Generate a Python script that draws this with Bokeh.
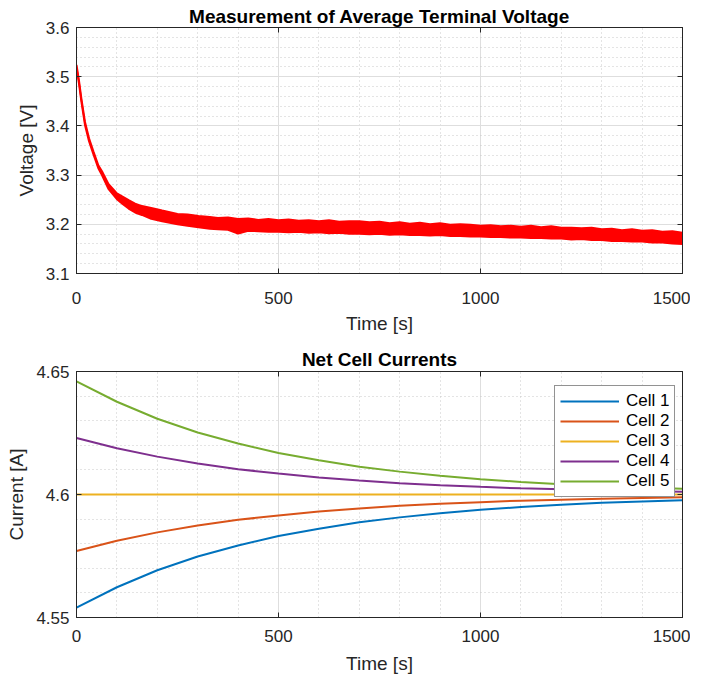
from bokeh.plotting import figure
from bokeh.layouts import column
from bokeh.models import FixedTicker, LinearAxis, Legend, LegendItem, Range1d
from bokeh.embed import file_html
from bokeh.resources import INLINE

# ---------------- data ----------------
# Top panel: measured average terminal voltage (noisy band: upper / lower envelope)
t_v = [0, 6, 12, 21, 31, 42, 54, 63, 79, 100, 115, 129, 145, 162, 185, 212, 250, 275,
       302, 330, 350, 375, 400, 425, 450, 475, 500, 525, 550, 575, 600, 625, 650, 675,
       700, 725, 750, 775, 800, 825, 850, 875, 900, 925, 950, 975, 1000, 1025, 1050,
       1075, 1100, 1125, 1150, 1175, 1200, 1225, 1250, 1275, 1300, 1325, 1350, 1375,
       1400, 1425, 1450, 1475, 1500]
v_hi = [3.524, 3.493, 3.456, 3.408, 3.375, 3.348, 3.320, 3.308, 3.282, 3.263, 3.256,
        3.249, 3.242, 3.237, 3.233, 3.228, 3.221, 3.220, 3.217, 3.215, 3.213, 3.214,
        3.211, 3.212, 3.209, 3.211, 3.208, 3.210, 3.207, 3.208, 3.206, 3.208, 3.205,
        3.206, 3.206, 3.204, 3.205, 3.202, 3.204, 3.201, 3.203, 3.200, 3.202, 3.199,
        3.200, 3.199, 3.197, 3.198, 3.196, 3.197, 3.195, 3.197, 3.194, 3.196, 3.193,
        3.193, 3.192, 3.193, 3.190, 3.191, 3.188, 3.190, 3.187, 3.188, 3.185, 3.186,
        3.183]
v_lo = [3.518, 3.487, 3.450, 3.402, 3.369, 3.342, 3.314, 3.300, 3.272, 3.251, 3.241,
        3.232, 3.224, 3.219, 3.211, 3.206, 3.200, 3.197, 3.194, 3.191, 3.190, 3.189,
        3.181, 3.187, 3.186, 3.185, 3.185, 3.184, 3.185, 3.183, 3.184, 3.182, 3.183,
        3.181, 3.181, 3.180, 3.181, 3.179, 3.180, 3.178, 3.178, 3.177, 3.178, 3.176,
        3.176, 3.175, 3.175, 3.174, 3.174, 3.173, 3.173, 3.172, 3.172, 3.171, 3.171,
        3.169, 3.170, 3.168, 3.168, 3.166, 3.166, 3.165, 3.165, 3.163, 3.163, 3.161,
        3.160]

# Bottom panel: net cell currents
t_i = [0, 100, 200, 300, 400, 500, 600, 700, 800, 900, 1000, 1100, 1200, 1300, 1400, 1500]
cell1 = [4.5540, 4.5623, 4.5692, 4.5748, 4.5793, 4.5831, 4.5861, 4.5887, 4.5907, 4.5924,
         4.5938, 4.5949, 4.5958, 4.5966, 4.5972, 4.5977]
cell2 = [4.5770, 4.5812, 4.5846, 4.5874, 4.5897, 4.5915, 4.5931, 4.5943, 4.5954, 4.5962,
         4.5969, 4.5975, 4.5979, 4.5983, 4.5986, 4.5989]
cell3 = [4.6000, 4.6000, 4.6000, 4.6000, 4.6000, 4.6000, 4.6000, 4.6000, 4.6000, 4.6000,
         4.6000, 4.6000, 4.6000, 4.6000, 4.6000, 4.6000]
cell4 = [4.6230, 4.6188, 4.6154, 4.6126, 4.6103, 4.6085, 4.6069, 4.6057, 4.6046, 4.6038,
         4.6031, 4.6025, 4.6021, 4.6017, 4.6014, 4.6011]
cell5 = [4.6460, 4.6377, 4.6308, 4.6252, 4.6207, 4.6169, 4.6139, 4.6113, 4.6093, 4.6076,
         4.6062, 4.6051, 4.6042, 4.6034, 4.6028, 4.6023]
cell_names = ["Cell 1", "Cell 2", "Cell 3", "Cell 4", "Cell 5"]
cell_colors = ["#0072BD", "#D95319", "#EDB120", "#7E2F8E", "#77AC30"]

x_ticks = [0, 500, 1000, 1500]
x_tick_labels = ["0", "500", "1000", "1500"]
v_ticks = [3.1, 3.2, 3.3, 3.4, 3.5, 3.6]
v_tick_labels = ["3.1", "3.2", "3.3", "3.4", "3.5", "3.6"]
i_ticks = [4.55, 4.6, 4.65]
i_tick_labels = ["4.55", "4.6", "4.65"]

FONT = "Liberation Sans"
AX = "#262626"

x_minor = [m for m in range(100, 1500, 100) if m % 500 != 0]
v_minor = [round(3.1 + 0.02 * k, 2) for k in range(1, 25) if k % 5 != 0]
i_minor = [round(4.55 + 0.01 * k, 2) for k in range(1, 10) if k % 5 != 0]


def make_fig(title, yr, yt, ylab, yminor, ylabel, bt, bb, tick_so, lab_so, title_so):
    p = figure(frame_width=606, frame_height=246,
               x_range=Range1d(0, 1500), y_range=Range1d(*yr),
               output_backend="svg", toolbar_location=None,
               min_border_left=76, min_border_right=8,
               min_border_top=bt, min_border_bottom=bb,
               background_fill_color="white", border_fill_color="white")
    p.title.text = title
    p.title.text_font = FONT
    p.title.text_font_size = "19px"
    p.title.text_font_style = "bold"
    p.title.text_color = "black"
    p.title.align = "center"
    p.title.standoff = title_so
    p.outline_line_color = AX
    p.outline_line_width = 1

    xt = FixedTicker(ticks=x_ticks, minor_ticks=x_minor)
    ytk = FixedTicker(ticks=yt, minor_ticks=yminor)
    p.xaxis.ticker = xt
    p.yaxis.ticker = ytk
    p.xaxis.major_label_overrides = {k: v for k, v in zip(x_ticks, x_tick_labels)}
    p.yaxis.major_label_overrides = {k: v for k, v in zip(yt, ylab)}
    p.xaxis.axis_label = "Time [s]"
    p.yaxis.axis_label = ylabel
    for ax in (p.xaxis[0], p.yaxis[0]):
        ax.axis_line_color = AX
        ax.major_tick_line_color = AX
        ax.major_tick_in = 5
        ax.major_tick_out = 0
        ax.minor_tick_in = 0
        ax.minor_tick_out = 0
        ax.major_label_text_font = FONT
        ax.major_label_text_font_size = "17px"
        ax.major_label_text_color = AX
        ax.axis_label_text_font = FONT
        ax.axis_label_text_font_size = "19px"
        ax.axis_label_text_font_style = "normal"
        ax.axis_label_text_color = AX
    p.xaxis.major_label_standoff = tick_so
    p.xaxis.axis_label_standoff = lab_so
    p.yaxis.major_label_standoff = 7
    p.yaxis.axis_label_standoff = 6

    for g in (p.xgrid[0], p.ygrid[0]):
        g.grid_line_color = "#dedede"
        g.grid_line_width = 1
        g.minor_grid_line_color = "#c8c8c8"
        g.minor_grid_line_dash = "1 3"
        g.minor_grid_line_width = 1
    p.xgrid.ticker = xt
    p.ygrid.ticker = ytk

    # box ticks on top / right (no labels)
    for place, tk in (("above", xt), ("right", ytk)):
        ax = LinearAxis(ticker=tk, major_label_text_font_size="0px",
                        major_label_text_color=None, major_tick_in=5,
                        major_tick_out=0, minor_tick_in=0, minor_tick_out=0,
                        major_label_standoff=0, axis_line_color=AX,
                        major_tick_line_color=AX)
        p.add_layout(ax, place)
    return p


p1 = make_fig("Measurement of Average Terminal Voltage", (3.1, 3.6), v_ticks,
              v_tick_labels, v_minor, "Voltage [V]", 27, 60, 18, 6, 2)
p1.varea(x=t_v, y1=v_lo, y2=v_hi, fill_color="#FF0000")
p1.line(t_v, v_hi, line_color="#FF0000", line_width=2)
p1.line(t_v, v_lo, line_color="#FF0000", line_width=2)

p2 = make_fig("Net Cell Currents", (4.55, 4.65), i_ticks, i_tick_labels, i_minor,
              "Current [A]", 35, 52, 12, 8, 4)
items = []
for name, col, ys in zip(cell_names, cell_colors, [cell1, cell2, cell3, cell4, cell5]):
    r = p2.line(t_i, ys, line_color=col, line_width=2)
    items.append(LegendItem(label=name, renderers=[r]))
leg = Legend(items=items, location=(478, 120), margin=0, padding=5, spacing=0,
             glyph_width=59, glyph_height=20, label_height=20, label_standoff=7,
             label_text_font=FONT, label_text_font_size="17px", label_text_color="black",
             border_line_color=AX, border_line_width=1, background_fill_color="white",
             background_fill_alpha=1.0)
p2.add_layout(leg)

layout = column(p1, p2, spacing=0)
open("out.html", "w").write(file_html(layout, INLINE))
